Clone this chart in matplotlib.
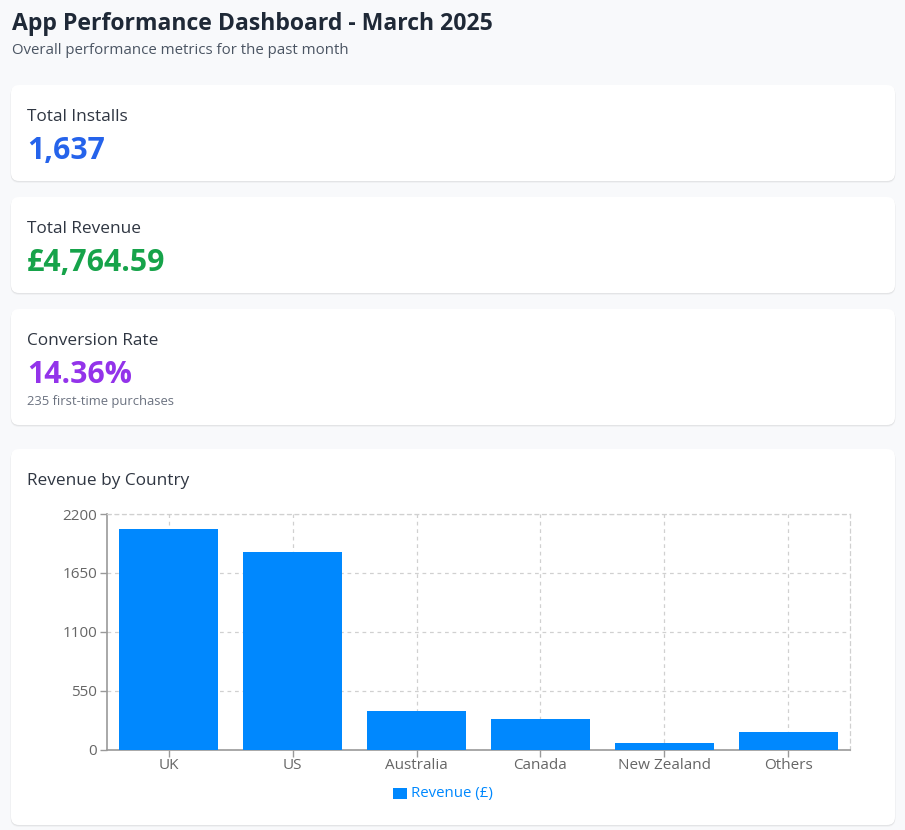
import matplotlib
matplotlib.use("Agg")
import matplotlib.pyplot as plt
from matplotlib.patches import FancyBboxPatch, Rectangle

plt.rcParams['font.family'] = ['Open Sans', 'DejaVu Sans']

countries = ["UK", "US", "Australia", "Canada", "New Zealand", "Others"]
revenue = [2057, 1842, 358, 284, 60, 162]
y_ticks = [0, 550, 1100, 1650, 2200]

title = "App Performance Dashboard - March 2025"
subtitle = "Overall performance metrics for the past month"
kpi_labels = ["Total Installs", "Total Revenue", "Conversion Rate"]
kpi_values = ["1,637", "£4,764.59", "14.36%"]
kpi_colors = ["#2563eb", "#16a34a", "#9333ea"]
kpi_note = "235 first-time purchases"

W, H = 905, 830
fig = plt.figure(figsize=(W / 100, H / 100), dpi=100)
fig.patch.set_facecolor("#f8f9fb")

bg = fig.add_axes([0, 0, 1, 1])
bg.set_xlim(0, W)
bg.set_ylim(H, 0)
bg.axis("off")

def card(x0, y0, x1, y1):
    for off, a in [(2.0, 0.025), (1.2, 0.035), (0.6, 0.04)]:
        s = FancyBboxPatch((x0 - 0.3, y0 + off), x1 - x0 + 0.6, y1 - y0,
                           boxstyle="round,pad=0,rounding_size=8",
                           fc="black", ec="none", alpha=a, zorder=1)
        bg.add_patch(s)
    p = FancyBboxPatch((x0, y0), x1 - x0, y1 - y0,
                       boxstyle="round,pad=0,rounding_size=8",
                       fc="white", ec="none", zorder=2)
    bg.add_patch(p)

card(11, 85, 895, 181)
card(11, 197, 895, 293)
card(11, 309, 895, 425)
card(11, 449, 895, 825)

bg.text(12, 24, title, fontsize=16.6, fontweight="bold", color="#1f2937", va="center", ha="left", zorder=5)
bg.text(12, 51, subtitle, fontsize=10.8, color="#4b5563", va="center", ha="left", zorder=5)

label_y = [117, 229, 341]
value_y = [151, 263, 375]
for ly, vy, lab, val, col in zip(label_y, value_y, kpi_labels, kpi_values, kpi_colors):
    bg.text(27, ly, lab, fontsize=12.4, color="#2f3642", va="center", ha="left", zorder=5)
    bg.text(27, vy, val, fontsize=21.8, fontweight="bold", color=col, va="center", ha="left", zorder=5)
bg.text(27, 401, kpi_note, fontsize=9.4, color="#6b7280", va="center", ha="left", zorder=5)
bg.text(27, 481, "Revenue by Country", fontsize=12.4, color="#2f3642", va="center", ha="left", zorder=5)

# chart axes
left, right, top, bottom = 107, 850, 514, 749.5
ax = fig.add_axes([left / W, 1 - bottom / H, (right - left) / W, (bottom - top) / H])
ax.set_facecolor("none")
x = list(range(len(countries)))
ax.bar(x, revenue, width=0.8, color="#0088fe", zorder=3)
ax.set_xlim(-0.5, len(countries) - 0.5)
ax.set_ylim(0, 2200)
ax.set_yticks(y_ticks)
ax.set_xticks(x)
ax.set_xticklabels(countries)
ax.grid(True, color="#d0d0d0", linestyle=(0, (3, 3)), linewidth=0.9, zorder=0)
for s in ["top", "right"]:
    ax.spines[s].set_visible(True)
    ax.spines[s].set_color("#d0d0d0")
    ax.spines[s].set_linestyle((0, (3, 3)))
    ax.spines[s].set_linewidth(0.9)
for s in ["left", "bottom"]:
    ax.spines[s].set_color("#999999")
    ax.spines[s].set_linewidth(1.2)
ax.tick_params(axis="both", colors="#999999", labelcolor="#666666", labelsize=11, length=5, width=1)
ax.tick_params(axis="x", pad=1)
ax.tick_params(axis="y", pad=2)

# legend
bg.add_patch(Rectangle((393, 787.5), 14, 11, fc="#0088fe", ec="none", zorder=5))
bg.text(411, 793, "Revenue (£)", fontsize=10.8, color="#0088fe", va="center", ha="left", zorder=5)

fig.savefig("out.png", dpi=100, facecolor=fig.get_facecolor())
